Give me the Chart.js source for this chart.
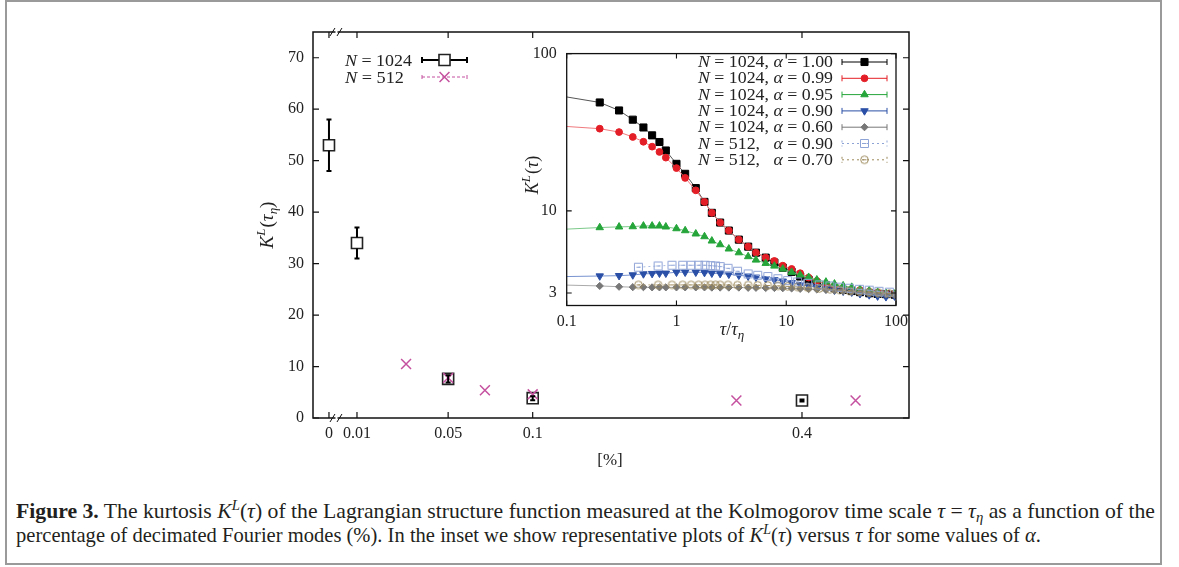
<!DOCTYPE html>
<html><head><meta charset="utf-8">
<script src="https://cdn.jsdelivr.net/npm/chart.js@4.4.1/dist/chart.umd.min.js"></script>
<style>
html,body{margin:0;padding:0;background:#fff;}
#wrap{position:relative;width:1179px;height:567px;overflow:hidden;background:#fff;}
#frame{position:absolute;left:5px;top:0px;width:1153px;height:561px;border:2px solid #9a9a9a;}
#main{position:absolute;left:0;top:0;}
#inset{position:absolute;left:480px;top:34px;}
.cap{position:absolute;left:16px;white-space:nowrap;font-family:'Liberation Serif',serif;font-size:21px;line-height:24px;color:#231f20;transform-origin:0 50%;}
.cap sup,.cap sub{font-size:0.68em;line-height:0;position:relative;vertical-align:baseline;}
.cap sup{top:-0.55em;}
.cap sub{top:0.3em;}
</style></head>
<body><div id="wrap">
<div id="frame"></div>
<canvas id="main" width="1179" height="480"></canvas>
<canvas id="inset" width="435" height="316"></canvas>
<div class="cap" data-w="1139" style="top:499px"><b>Figure 3.</b> The kurtosis <i>K</i><sup><i>L</i></sup>(<i>τ</i>) of the Lagrangian structure function measured at the Kolmogorov time scale <i>τ</i> = <i>τ</i><sub><i>η</i></sub> as a function of the</div>
<div class="cap" data-w="1025" style="top:523px">percentage of decimated Fourier modes (%). In the inset we show representative plots of <i>K</i><sup><i>L</i></sup>(<i>τ</i>) versus <i>τ</i> for some values of <i>α</i>.</div>
</div>
<script>
// ---------- main plot data ----------
const tickPct = [0, 0.01, 0.05, 0.1, 0.4];
const tickLbl = ['0', '0.01', '0.05', '0.1', '0.4'];
const yTickMain = [0, 10, 20, 30, 40, 50, 60, 70];
const pct1024 = [0, 0.01, 0.05, 0.1, 0.4];
const kurt1024 = [53, 34, 7.6, 3.85, 3.4];
const err1024 = [5, 3, 0.7, 0.4, 0.2];
const pct512 = [0.03, 0.05, 0.07, 0.1, 0.3, 0.5];
const kurt512 = [10.5, 7.8, 5.4, 4.6, 3.4, 3.4];

// ---------- inset data ----------
const insetXTicks = [0.1, 1, 10, 100];
const insetXLbl = ['0.1', '1', '10', '100'];
const insetYTicks = [3, 10, 100];
const insetYLbl = ['3', '10', '100'];
const tauEdge = 0.1;
const edgeK = [53.0, 34.4, 7.65, 3.82, 3.37];
const tau1024 = [0.2,0.3,0.4,0.5,0.6,0.7,0.8,1.0,1.2,1.5,1.8,2.1,2.5,3.0,3.7,4.5,5.3,6.5,7.8,9.3,11.2,13.4,16,19,23,27.5,33,39.5,47,57,68,81,97];
const k100 = [48.9,43.5,38.0,33.9,30.2,27.4,24.2,19.9,17.2,13.95,11.4,9.71,8.42,7.49,6.56,5.92,5.42,5.04,4.69,4.35,4.09,3.82,3.64,3.46,3.36,3.23,3.14,3.09,3.04,2.99,2.96,2.95,2.93];
const k099 = [33.3,31.7,29.5,27.5,25.6,23.7,21.8,18.7,16.2,13.5,11.4,9.71,8.42,7.49,6.56,5.92,5.42,5.04,4.80,4.48,4.27,4.01,3.76,3.58,3.43,3.33,3.23,3.17,3.13,3.06,3.02,2.97,2.96];
const k095 = [7.83,7.91,7.94,8.02,8.02,8.02,7.91,7.71,7.49,7.14,6.86,6.44,6.10,5.73,5.42,5.12,4.87,4.64,4.46,4.27,4.07,3.91,3.78,3.64,3.53,3.43,3.34,3.27,3.17,3.11,3.04,2.99,2.96];
const k090 = [3.85,3.87,3.91,3.97,3.99,4.01,4.01,4.07,4.07,4.07,4.05,4.01,3.99,3.95,3.89,3.84,3.78,3.70,3.64,3.57,3.49,3.39,3.33,3.27,3.19,3.13,3.08,3.04,2.97,2.92,2.87,2.84,2.87];
const k060 = [3.33,3.29,3.27,3.27,3.26,3.26,3.26,3.26,3.26,3.26,3.26,3.25,3.25,3.25,3.25,3.24,3.24,3.23,3.23,3.22,3.21,3.19,3.18,3.16,3.14,3.11,3.08,3.05,3.02,2.99,2.96,2.94,2.92];
const tau512 = [0.45,0.68,0.91,1.14,1.36,1.59,1.82,2.05,2.27,2.5,2.95,3.6,4.5,5.5,6.8,8.4,10.3,12.7,15.7,20,25,30.5,37.6,46.4,57,70,87];
const k512a090 = [4.38,4.46,4.51,4.51,4.51,4.51,4.51,4.48,4.46,4.42,4.31,4.13,3.97,3.89,3.82,3.70,3.60,3.53,3.46,3.38,3.33,3.27,3.22,3.17,3.13,3.08,3.04];
const k512a070 = [3.38,3.38,3.38,3.38,3.38,3.38,3.38,3.38,3.38,3.38,3.38,3.37,3.37,3.36,3.35,3.33,3.31,3.28,3.25,3.21,3.17,3.14,3.10,3.07,3.04,3.01,2.98];
const insetLabels = ['1024|1.00','1024|0.99','1024|0.95','1024|0.90','1024|0.60','512|0.90','512|0.70'];

// ---------- helpers ----------
Chart.defaults.font.family = '"Liberation Serif", serif';
Chart.defaults.color = '#222';
const F = (sz, it) => (it ? 'italic ' : '') + sz + 'px "Liberation Serif"';
const T = v => Math.log10(v + 0.1);

function drawRich(ctx, segs, x, y, o) {
  o = o || {};
  ctx.save();
  ctx.textBaseline = 'alphabetic'; ctx.textAlign = 'left';
  let w = 0;
  const ws = segs.map(s => { ctx.font = s[1]; const m = ctx.measureText(s[0]).width + (s[3] || 0); w += m; return m; });
  const sx = o.width ? o.width / w : 1;
  const tw = w * sx;
  let x0 = x;
  if (o.align === 'center') x0 = x - tw / 2; else if (o.align === 'right') x0 = x - tw;
  ctx.translate(x0, y); ctx.scale(sx, 1);
  ctx.fillStyle = o.color || '#222';
  let cx = 0;
  segs.forEach((s, i) => { ctx.font = s[1]; ctx.fillText(s[0], cx, s[2] || 0); cx += ws[i]; });
  ctx.restore();
}
function marker(ctx, st, x, y, r, fill, stroke, lw, rot) {
  ctx.save(); ctx.translate(x, y);
  if (st instanceof HTMLCanvasElement) { ctx.drawImage(st, -st.width / 2, -st.height / 2); ctx.restore(); return; }
  if (rot) ctx.rotate(rot * Math.PI / 180);
  ctx.beginPath();
  if (st === 'rect') { const s = r * Math.SQRT1_2; ctx.rect(-s, -s, 2 * s, 2 * s); }
  else if (st === 'circle') ctx.arc(0, 0, r, 0, 2 * Math.PI);
  else if (st === 'triangle') { ctx.moveTo(0, -r); ctx.lineTo(r * 0.866, r * 0.5); ctx.lineTo(-r * 0.866, r * 0.5); ctx.closePath(); }
  else if (st === 'rectRot') { ctx.moveTo(0, -r); ctx.lineTo(r, 0); ctx.lineTo(0, r); ctx.lineTo(-r, 0); ctx.closePath(); }
  else if (st === 'crossRot') { const o = r * Math.SQRT1_2; ctx.moveTo(-o, -o); ctx.lineTo(o, o); ctx.moveTo(-o, o); ctx.lineTo(o, -o); }
  if (fill && st !== 'crossRot') { ctx.fillStyle = fill; ctx.fill(); }
  if (lw) { ctx.strokeStyle = stroke; ctx.lineWidth = lw; ctx.stroke(); }
  ctx.restore();
}
function dashMarker(kind, color) {
  const c = document.createElement('canvas'); c.width = 11; c.height = 11;
  const g = c.getContext('2d'); g.strokeStyle = color; g.lineWidth = 1;
  g.beginPath();
  if (kind === 'sq') g.rect(1.5, 1.5, 8, 8); else g.arc(5.5, 5.5, 3.8, 0, 2 * Math.PI);
  g.moveTo(3.5, 5.5); g.lineTo(7.5, 5.5);
  g.stroke();
  return c;
}

// ---------- main chart ----------
const MAGENTA = '#c5509f';
const mainDeco = {
  id: 'mainDeco',
  afterDatasetsDraw(chart) {
    const ctx = chart.ctx, xs = chart.scales.x, ys = chart.scales.y;
    chart.data.datasets.forEach(ds => {
      if (!ds.errors) return;
      ds.data.forEach((pt, i) => {
        const e = ds.errors[i];
        const x = xs.getPixelForValue(pt.x);
        const yT = ys.getPixelForValue(pt.y + e), yB = ys.getPixelForValue(pt.y - e), yC = ys.getPixelForValue(pt.y);
        const h = 5.6;
        ctx.save(); ctx.strokeStyle = '#000'; ctx.lineWidth = 2; ctx.beginPath();
        if (yC - yT > h) { ctx.moveTo(x, yT); ctx.lineTo(x, yC - h); ctx.moveTo(x, yC + h); ctx.lineTo(x, yB); }
        else { ctx.moveTo(x, yT); ctx.lineTo(x, yB); }
        ctx.moveTo(x - 2.5, yT); ctx.lineTo(x + 2.5, yT); ctx.moveTo(x - 2.5, yB); ctx.lineTo(x + 2.5, yB);
        ctx.stroke(); ctx.restore();
      });
    });
  },
  afterDraw(chart) {
    const ctx = chart.ctx, a = chart.chartArea, xs = chart.scales.x, ys = chart.scales.y;
    ctx.save();
    ctx.strokeStyle = '#111'; ctx.lineWidth = 1.5;
    ctx.strokeRect(a.left, a.top, a.right - a.left, a.bottom - a.top);
    ctx.lineWidth = 1.2; ctx.beginPath();
    xs.ticks.forEach(t => { const x = xs.getPixelForValue(t.value); ctx.moveTo(x, a.bottom); ctx.lineTo(x, a.bottom - 6); ctx.moveTo(x, a.top); ctx.lineTo(x, a.top + 6); });
    ys.ticks.forEach(t => { const y = ys.getPixelForValue(t.value); ctx.moveTo(a.left, y); ctx.lineTo(a.left + 6, y); ctx.moveTo(a.right, y); ctx.lineTo(a.right - 6, y); });
    ctx.stroke();
    const bx = xs.getPixelForValue(T(tickPct[0])) + 2;
    [a.top, a.bottom].forEach(y => {
      ctx.fillStyle = '#fff'; ctx.fillRect(bx + 4.5, y - 1.5, 2, 3);
      ctx.strokeStyle = '#111'; ctx.lineWidth = 1; ctx.beginPath();
      ctx.moveTo(bx - 1, y + 4); ctx.lineTo(bx + 4, y - 4);
      ctx.moveTo(bx + 6, y + 4); ctx.lineTo(bx + 11, y - 4);
      ctx.stroke();
    });
    ctx.restore();
    const lx1 = 422, lx2 = 467, lm = 444.5;
    drawRich(ctx, [['N', F(17, 1)], [' = ', F(17)], ['1024', F(17)]], 345, 66, { width: 67 });
    drawRich(ctx, [['N', F(17, 1)], [' = ', F(17)], ['512', F(17)]], 345, 83, { width: 59 });
    ctx.save();
    ctx.strokeStyle = '#000'; ctx.lineWidth = 2; ctx.beginPath();
    ctx.moveTo(lx1, 60); ctx.lineTo(lx2, 60); ctx.moveTo(lx1, 57); ctx.lineTo(lx1, 63); ctx.moveTo(lx2, 57); ctx.lineTo(lx2, 63);
    ctx.stroke();
    marker(ctx, 'rect', lm, 60, 7.8, '#fff', '#222', 1.6);
    ctx.strokeStyle = MAGENTA; ctx.lineWidth = 1; ctx.setLineDash([3, 2]); ctx.beginPath();
    ctx.moveTo(lx1, 77); ctx.lineTo(lx2, 77); ctx.stroke(); ctx.setLineDash([]);
    ctx.beginPath(); ctx.moveTo(lx1, 75); ctx.lineTo(lx1, 79); ctx.moveTo(lx2, 75); ctx.lineTo(lx2, 79); ctx.stroke();
    marker(ctx, 'crossRot', lm, 77, 7, null, MAGENTA, 1.5);
    ctx.restore();
    ctx.save(); ctx.translate(267, 225); ctx.rotate(-Math.PI / 2);
    drawRich(ctx, [['K', F(19, 1)], ['L', F(13, 1), -8, 1], ['(', F(19)], ['τ', F(19, 1)], ['η', F(13, 1), 4], [')', F(19)]], 0, 6, { align: 'center' });
    ctx.restore();
    drawRich(ctx, [['[%]', F(17)]], 610, 465, { align: 'center' });
  }
};

new Chart(document.getElementById('main'), {
  type: 'scatter',
  data: {
    datasets: [
      { label: 'N = 1024', data: pct1024.map((p, i) => ({ x: T(p), y: kurt1024[i] })), errors: err1024,
        pointStyle: 'rect', pointRadius: 7.8, pointBorderWidth: 1.6, pointBorderColor: '#222', pointBackgroundColor: '#fff', showLine: false, order: 2 },
      { label: 'N = 512', data: pct512.map((p, i) => ({ x: T(p), y: kurt512[i] })),
        pointStyle: 'crossRot', pointRadius: 7, pointBorderWidth: 1.5, pointBorderColor: MAGENTA, showLine: false, order: 1 }
    ]
  },
  options: {
    responsive: false, animation: false, devicePixelRatio: 1,
    layout: { padding: { left: 0, top: 32, right: 270, bottom: 0 } },
    plugins: { legend: { display: false }, tooltip: { enabled: false } },
    scales: {
      x: {
        type: 'linear', min: -1.0236, max: -0.1429,
        grid: { display: false, drawTicks: false }, border: { display: false },
        afterBuildTicks: s => { s.ticks = tickPct.map(p => ({ value: T(p) })); },
        ticks: { autoSkip: false, maxRotation: 0, padding: 6, font: { size: 16 }, color: '#222', callback: (v, i) => tickLbl[i] },
        afterFit: s => { s.height = 62; }
      },
      y: {
        min: 0, max: 75,
        grid: { display: false, drawTicks: false }, border: { display: false },
        afterBuildTicks: s => { s.ticks = yTickMain.map(v => ({ value: v })); },
        ticks: { padding: 9, font: { size: 16 }, color: '#222', callback: v => String(v) },
        afterFit: s => { s.width = 313; }
      }
    }
  },
  plugins: [mainDeco]
});

// ---------- inset chart ----------
const SQ512 = dashMarker('sq', '#8ea3d6');
const CI512 = dashMarker('ci', '#9d8a5c');
const styles = [
  { st: 'rect', r: 5, c: '#000000', line: '#555555', rot: 0 },
  { st: 'circle', r: 3.4, c: '#e41e26', line: '#f07a7e', rot: 0 },
  { st: 'triangle', r: 4.3, c: '#25a53a', line: '#7cc98a', rot: 0 },
  { st: 'triangle', r: 4.3, c: '#2a4fa6', line: '#7893d0', rot: 180 },
  { st: 'rectRot', r: 3.6, c: '#777777', line: '#aaaaaa', rot: 0 },
  { st: SQ512, r: 5.5, c: '#8ea3d6', line: '#a9bbe3', rot: 0, dash: true },
  { st: CI512, r: 5.5, c: '#9d8a5c', line: '#b7a67e', rot: 0, dash: true }
];
const insetSeries = [k100, k099, k095, k090, k060];
const insetDatasets = [];
insetSeries.forEach((arr, i) => {
  const s = styles[i];
  insetDatasets.push({
    data: [{ x: tauEdge, y: edgeK[i] }].concat(tau1024.map((t, j) => ({ x: t, y: arr[j] }))),
    showLine: true, borderColor: s.line, borderWidth: 1,
    pointStyle: s.st, pointRotation: s.rot,
    pointRadius: c => c.dataIndex === 0 ? 0 : s.r,
    pointBackgroundColor: s.c, pointBorderColor: s.c, pointBorderWidth: 1, order: 10 - i
  });
});
[k512a090, k512a070].forEach((arr, k) => {
  const s = styles[5 + k];
  insetDatasets.push({
    data: tau512.map((t, j) => ({ x: t, y: arr[j] })),
    showLine: true, borderColor: s.line, borderWidth: 1, borderDash: [2, 3],
    pointStyle: s.st, pointRadius: s.r, order: 10 - 5 - k
  });
});

const insetDeco = {
  id: 'insetDeco',
  afterDraw(chart) {
    const ctx = chart.ctx, a = chart.chartArea, xs = chart.scales.x, ys = chart.scales.y;
    ctx.save();
    ctx.strokeStyle = '#111'; ctx.lineWidth = 1.3;
    ctx.strokeRect(a.left, a.top, a.right - a.left, a.bottom - a.top);
    ctx.lineWidth = 1.1; ctx.beginPath();
    xs.ticks.forEach(t => { const x = xs.getPixelForValue(t.value); ctx.moveTo(x, a.bottom); ctx.lineTo(x, a.bottom - 5); ctx.moveTo(x, a.top); ctx.lineTo(x, a.top + 5); });
    ys.ticks.forEach(t => { const y = ys.getPixelForValue(t.value); ctx.moveTo(a.left, y); ctx.lineTo(a.left + 5, y); ctx.moveTo(a.right, y); ctx.lineTo(a.right - 5, y); });
    ctx.stroke();
    ctx.restore();
    const x1 = 362, x2 = 407, xm = 384.5;
    insetLabels.forEach((lab, i) => {
      const [n, al] = lab.split('|');
      const y = 28 + i * 16.3;
      const segs = [['N', F(16, 1)], [' = ', F(16)], [n + ',', F(16)], [n.length === 3 ? '   ' : ' ', F(16)], ['α', F(16, 1)], [' = ', F(16)], [al, F(16)]];
      drawRich(ctx, segs, 218, y + 5, { width: 135 });
      const s = styles[i];
      ctx.save();
      ctx.strokeStyle = s.c; ctx.lineWidth = 1;
      if (s.dash) ctx.setLineDash([2, 3]);
      ctx.beginPath(); ctx.moveTo(x1, y); ctx.lineTo(x2, y); ctx.stroke();
      ctx.beginPath(); ctx.moveTo(x1, y - 3); ctx.lineTo(x1, y + 3); ctx.moveTo(x2, y - 3); ctx.lineTo(x2, y + 3); ctx.stroke();
      ctx.setLineDash([]);
      marker(ctx, s.st, xm, y, s.r, s.c, s.c, 1, s.rot);
      ctx.restore();
    });
    ctx.save(); ctx.translate(52, 141); ctx.rotate(-Math.PI / 2);
    drawRich(ctx, [['K', F(18, 1)], ['L', F(13, 1), -8, 1], ['(', F(18)], ['τ', F(18, 1)], [')', F(18)]], 0, 6, { align: 'center' });
    ctx.restore();
    drawRich(ctx, [['τ', F(18, 1)], ['/', F(18)], ['τ', F(18, 1)], ['η', F(13, 1), 4]], 252, 301, { align: 'center' });
  }
};

new Chart(document.getElementById('inset'), {
  type: 'scatter',
  data: { datasets: insetDatasets },
  options: {
    responsive: false, animation: false, devicePixelRatio: 1,
    layout: { padding: { left: 0, top: 14, right: 14, bottom: 0 } },
    plugins: { legend: { display: false }, tooltip: { enabled: false } },
    scales: {
      x: {
        type: 'logarithmic', min: 0.1, max: 100,
        grid: { display: false, drawTicks: false }, border: { display: false },
        afterBuildTicks: s => { s.ticks = insetXTicks.map(v => ({ value: v })); },
        ticks: { autoSkip: false, maxRotation: 0, padding: 7, font: { size: 16 }, color: '#222', callback: (v, i) => insetXLbl[i] },
        afterFit: s => { s.height = 44.5; }
      },
      y: {
        type: 'logarithmic', min: 2.5, max: 100,
        grid: { display: false, drawTicks: false }, border: { display: false },
        afterBuildTicks: s => { s.ticks = insetYTicks.map(v => ({ value: v })); },
        ticks: { padding: 10, font: { size: 16 }, color: '#222', callback: (v, i) => insetYLbl[i] },
        afterFit: s => { s.width = 86.7; }
      }
    }
  },
  plugins: [insetDeco]
});

document.querySelectorAll('.cap').forEach(el => {
  const w = el.getBoundingClientRect().width;
  el.style.transform = 'scaleX(' + (Number(el.dataset.w) / w) + ')';
});
</script>
</body></html>
